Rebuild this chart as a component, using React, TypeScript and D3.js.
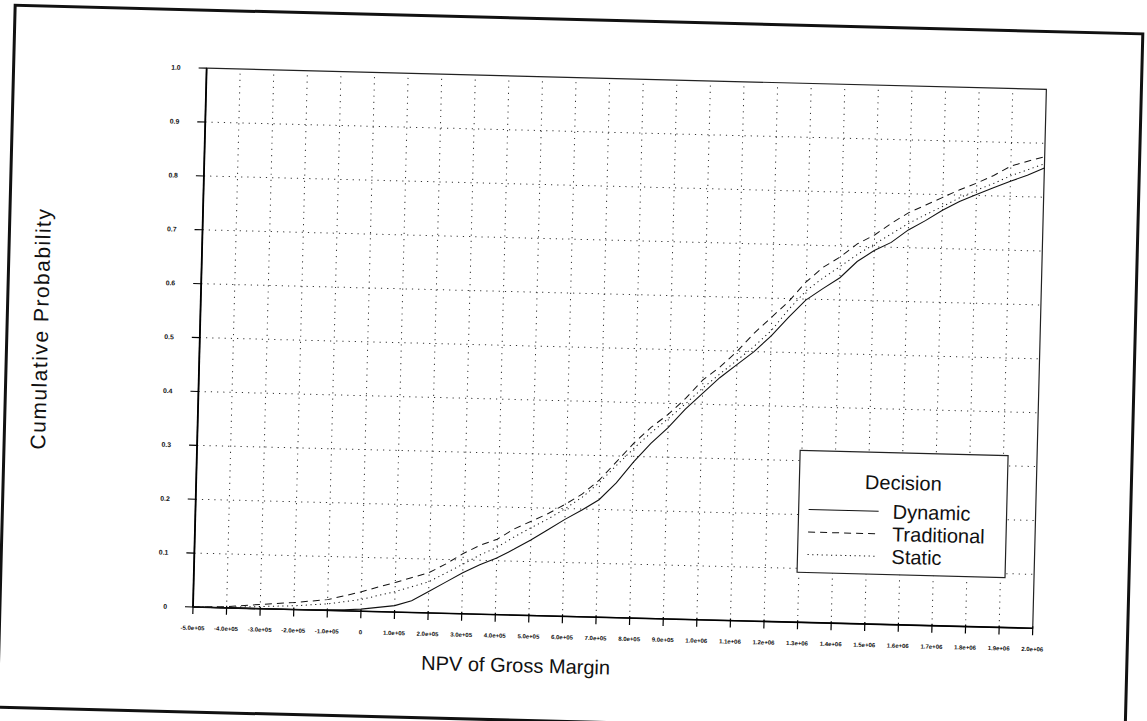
import React from "react";
import * as d3 from "d3";

const xValues = [
  -5e5, -4e5, -3e5, -2e5, -1e5, -5e4, 0, 5e4, 1e5, 1.5e5, 2e5, 2.5e5, 3e5, 3.5e5, 4e5, 4.5e5,
  5e5, 5.5e5, 6e5, 6.5e5, 7e5, 7.5e5, 8e5, 8.5e5, 9e5, 9.5e5, 1e6, 1.05e6, 1.1e6, 1.15e6,
  1.2e6, 1.25e6, 1.3e6, 1.35e6, 1.4e6, 1.45e6, 1.5e6, 1.55e6, 1.6e6, 1.65e6, 1.7e6, 1.75e6,
  1.8e6, 1.85e6, 1.9e6, 1.95e6, 2.0e6,
];

const dynamicValues = [
  0, 0, 0, 0, 0.001, 0.002, 0.004, 0.008, 0.012, 0.022, 0.04, 0.058, 0.076, 0.092, 0.105, 0.122,
  0.14, 0.16, 0.18, 0.198, 0.218, 0.25, 0.29, 0.325, 0.355, 0.39, 0.42, 0.45, 0.475, 0.5,
  0.53, 0.565, 0.598, 0.62, 0.641, 0.672, 0.693, 0.709, 0.733, 0.751, 0.771, 0.788,
  0.802, 0.815, 0.828, 0.84, 0.854,
];

const traditionalValues = [
  0, 0.002, 0.008, 0.013, 0.02, 0.028, 0.036, 0.046, 0.055, 0.065, 0.075, 0.092, 0.112, 0.128, 0.14, 0.16,
  0.175, 0.19, 0.208, 0.228, 0.255, 0.29, 0.325, 0.355, 0.38, 0.41, 0.445, 0.47, 0.5, 0.535,
  0.565, 0.595, 0.632, 0.66, 0.68, 0.705, 0.722, 0.745, 0.765, 0.78, 0.795, 0.81,
  0.823, 0.838, 0.856, 0.866, 0.875,
];

const staticValues = [
  0, 0.001, 0.004, 0.007, 0.012, 0.017, 0.022, 0.03, 0.038, 0.048, 0.058, 0.075, 0.092, 0.11, 0.125, 0.145,
  0.163, 0.18, 0.2, 0.222, 0.25, 0.283, 0.315, 0.345, 0.372, 0.4, 0.43, 0.457, 0.483, 0.51,
  0.54, 0.58, 0.615, 0.64, 0.662, 0.685, 0.705, 0.725, 0.745, 0.762, 0.778, 0.795,
  0.81, 0.823, 0.838, 0.85, 0.862,
];

const xTickValues = d3.range(-5, 21).map((k) => k * 1e5);
const xTickLabels = [
  "-5.0e+05", "-4.0e+05", "-3.0e+05", "-2.0e+05", "-1.0e+05", "0",
  "1.0e+05", "2.0e+05", "3.0e+05", "4.0e+05", "5.0e+05", "6.0e+05", "7.0e+05", "8.0e+05", "9.0e+05",
  "1.0e+06", "1.1e+06", "1.2e+06", "1.3e+06", "1.4e+06", "1.5e+06", "1.6e+06", "1.7e+06", "1.8e+06",
  "1.9e+06", "2.0e+06",
];
const yTickValues = d3.range(0, 11).map((k) => k / 10);
const yTickLabels = ["0", "0.1", "0.2", "0.3", "0.4", "0.5", "0.6", "0.7", "0.8", "0.9", "1.0"];

const seriesNames = ["Dynamic", "Traditional", "Static"];
const seriesDash = ["none", "7,5", "1.2,3.5"];

const W = 1147;
const H = 721;
const PW = 840;
const PH = 539;
const ROT = 1.45;
const FONT = "'Liberation Sans', Arial, Helvetica, sans-serif";

export default function App() {
  const x = d3.scaleLinear().domain([-5e5, 2.0e6]).range([0, PW]);
  const y = d3.scaleLinear().domain([0, 1]).range([0, -PH]);
  const series = [dynamicValues, traditionalValues, staticValues];
  const line = d3
    .line<number>()
    .x((_, i) => x(xValues[i]))
    .y((d) => y(d));

  return (
    <svg
      width={W}
      height={H}
      style={{ position: "absolute", left: 0, top: 0, background: "#fff" }}
    >
      <rect x={0} y={0} width={W} height={H} fill="#fff" />
      <g transform={`translate(193,607) rotate(${ROT})`}>
        {/* outer frame */}
        <rect x={-193} y={-597} width={1128} height={702} fill="none" stroke="#111" strokeWidth={3} />

        {/* grid */}
        {xTickValues.slice(1, -1).map((v) => (
          <line key={"gx" + v} x1={x(v)} x2={x(v)} y1={0} y2={-PH} stroke="#333" strokeWidth={1} strokeDasharray="1.2,5" />
        ))}
        {yTickValues.slice(1, -1).map((v) => (
          <line key={"gy" + v} x1={0} x2={PW} y1={y(v)} y2={y(v)} stroke="#333" strokeWidth={1} strokeDasharray="1.2,5" />
        ))}

        {/* plot box */}
        <rect x={0} y={-PH} width={PW} height={PH} fill="none" stroke="#222" strokeWidth={1.2} />
        <line x1={0} x2={0} y1={0} y2={-PH} stroke="#000" strokeWidth={1.8} />
        <line x1={0} x2={PW} y1={0} y2={0} stroke="#000" strokeWidth={1.6} />

        {/* x ticks */}
        {xTickValues.map((v, i) => (
          <g key={"tx" + v}>
            <line x1={x(v)} x2={x(v)} y1={-2} y2={7} stroke="#000" strokeWidth={1.2} />
            <text x={x(v)} y={23} fontSize={6} fontWeight="bold" fontFamily={FONT} textAnchor="middle" fill="#111">
              {xTickLabels[i]}
            </text>
          </g>
        ))}
        {/* y ticks */}
        {yTickValues.map((v, i) => (
          <g key={"ty" + v}>
            <line x1={-8} x2={0} y1={y(v)} y2={y(v)} stroke="#000" strokeWidth={1.1} />
            <text x={-26} y={y(v) + 2.4} fontSize={6.8} fontWeight="bold" fontFamily={FONT} textAnchor="end" fill="#111">
              {yTickLabels[i]}
            </text>
          </g>
        ))}

        {/* series */}
        {series.map((vals, i) => (
          <path
            key={seriesNames[i]}
            d={line(vals) || ""}
            fill="none"
            stroke="#111"
            strokeWidth={i === 0 ? 1.1 : 1}
            strokeDasharray={seriesDash[i]}
          />
        ))}

        {/* axis titles */}
        <text x={324} y={57} fontSize={20} fontFamily={FONT} textAnchor="middle" fill="#111">
          NPV of Gross Margin
        </text>
        <text
          transform={`translate(-152,${-PH / 2 - 5}) rotate(-90)`}
          fontSize={21}
          letterSpacing={1.5}
          fontFamily={FONT}
          textAnchor="middle"
          fill="#111"
        >
          Cumulative Probability
        </text>

        {/* legend */}
        <g transform="translate(603,-172)">
          <rect x={0} y={0} width={208} height={122} fill="#fff" stroke="#222" strokeWidth={1.2} />
          <text x={104} y={37} fontSize={20} fontFamily={FONT} textAnchor="middle" fill="#111">
            Decision
          </text>
          {seriesNames.map((name, i) => (
            <g key={"lg" + name} transform={`translate(0,${59 + i * 22.5})`}>
              <line x1={10} x2={80} y1={0} y2={0} stroke="#111" strokeWidth={1} strokeDasharray={seriesDash[i]} />
              <text x={94} y={7} fontSize={20} fontFamily={FONT} fill="#111">
                {name}
              </text>
            </g>
          ))}
        </g>
      </g>
    </svg>
  );
}
